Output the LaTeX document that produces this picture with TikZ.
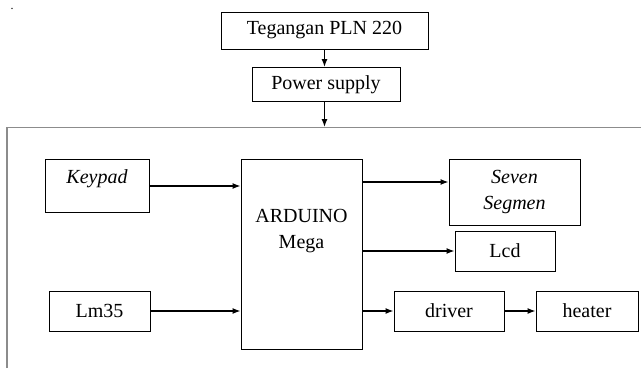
\documentclass[tikz,border=0pt]{standalone}
\usepackage{fontspec}
\setmainfont{Liberation Serif}
\usetikzlibrary{arrows.meta}
\definecolor{framegray}{HTML}{8C8C8C}

\begin{document}
\begin{tikzpicture}[
  x=0.75pt, y=-0.75pt,
  font=\fontsize{15}{20}\selectfont,
  >={Latex[length=6pt,width=4.5pt]},
  box/.style={draw, line width=0.75pt, inner sep=0pt, align=center,
              minimum height=30pt},
  arr/.style={->, line width=0.9pt},
  border/.style={draw=framegray, line width=1.4pt},
]
\useasboundingbox (0,0) rectangle (641,368);
\node[anchor=base, inner sep=0pt, font=\fontsize{9}{9}\selectfont] (dot) at (12,9) {.};
% supply chain on top
\node[box, minimum width=155.25pt, minimum height=27.75pt] (pln) at (324.5,30.5) {Tegangan PLN 220};
\node[box, minimum width=111pt, minimum height=25.5pt] (psu) at (326,84.5) {Power supply};
\coordinate (bus) at (324.5,127);
\draw[border] (7,368) |- (641,127.5);
\draw[arr] (pln.south) -- (pln.south |- psu.north);
\draw[arr] (psu.south -| bus) -- (bus);
% blocks
\node[box, minimum width=78pt, minimum height=39.75pt] (keypad) at (97,186) {};
\node (keytxt) at (97,179) {\textit{Keypad}};
\node[box, minimum width=75.75pt] (lm) at (99.5,311) {Lm35};
\node[box, minimum width=90.75pt, minimum height=142.5pt] (mcu) at (301.5,254) {};
\node[align=center] (mcutxt) at (301.5,231) {ARDUINO\\Mega};
\node[box, minimum width=98.25pt, minimum height=49.5pt] (seg) at (514.5,192) {\textit{Seven}\\\textit{Segmen}};
\node[box, minimum width=75pt] (lcd) at (505,251) {Lcd};
\node[box, minimum width=82.5pt] (drv) at (449,311) {driver};
\node[box, minimum width=76.5pt] (heat) at (587,311) {heater};
\coordinate (segin) at ([yshift=7.5pt]seg.west);
\draw[arr] (keypad.east) -- (keypad.east -| mcu.west);
\draw[arr] (lm.east) -- (lm.east -| mcu.west);
\draw[arr] (segin -| mcu.east) -- (segin);
\draw[arr] (lcd.west -| mcu.east) -- (lcd.west);
\draw[arr] (drv.west -| mcu.east) -- (drv.west);
\draw[arr] (drv) -- (heat);
\end{tikzpicture}
\end{document}
